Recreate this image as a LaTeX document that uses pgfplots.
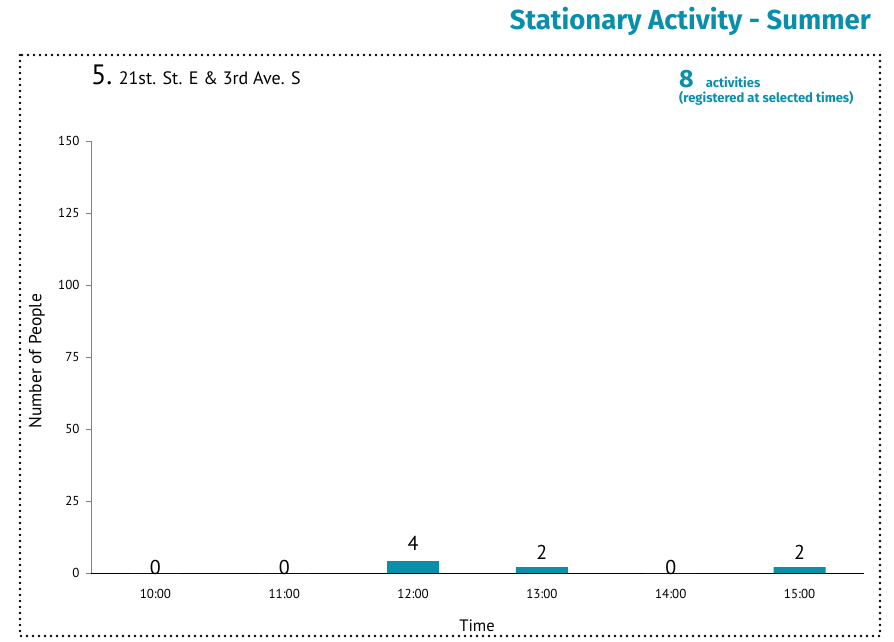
\documentclass[border=0pt]{standalone}
\usepackage{fontspec}
\setmainfont{PT Sans}
\newfontfamily\titlefont{Fira Sans}
\usepackage{pgfplots}
\pgfplotsset{compat=1.18}
\definecolor{teal1}{HTML}{0A8FAA}
\begin{document}
\begin{tikzpicture}[x=1pt,y=1pt]
\path (0,0) rectangle (894,641);
\draw[line width=2.6pt, line cap=round, dash pattern=on 0pt off 6pt] (20,586) rectangle (880,5);
\node[anchor=base east, inner sep=0, text=teal1, font=\titlefont\bfseries\fontsize{27.5}{32}\selectfont] at (871,611) {Stationary Activity - Summer};
\node[anchor=base west, inner sep=0, font=\fontsize{18}{20}\selectfont] at (91,556) {{\fontsize{28}{30}\selectfont 5.} 21st. St. E \& 3rd Ave. S};
\node[anchor=base west, inner sep=0, text=teal1, font=\titlefont\bfseries\fontsize{13}{15}\selectfont] at (679,553) {{\fontsize{25}{26}\selectfont 8}\hspace{9pt} activities};
\node[anchor=base west, inner sep=0, text=teal1, font=\titlefont\bfseries\fontsize{13}{15}\selectfont] at (679,538) {(registered at selected times)};
\begin{axis}[
  at={(91pt,68pt)}, anchor=south west, scale only axis,
  width=773pt, height=432pt,
  xmin=-0.5, xmax=5.5, ymin=0, ymax=150,
  axis x line=bottom, axis y line=left,
  axis line style={-},
  x axis line style={black, line width=0.8pt},
  y axis line style={gray, line width=0.8pt},
  ytick={0,25,...,150},
  xtick={0,...,5},
  xticklabels={10:00,11:00,12:00,13:00,14:00,15:00},
  x tick style={draw=none},
  extra x ticks={-0.5,0.5,1.5,2.5,3.5,4.5,5.5},
  extra x tick labels={},
  extra x tick style={tick style={black, draw=black, line width=0.6pt}, major tick length=6pt, tick align=outside},
  y tick style={gray, line width=0.6pt},
  major tick length=5pt, tick align=outside,
  tick label style={font=\fontsize{13}{15}\selectfont},
  yticklabel style={xshift=-3pt, font=\fontsize{13}{15}\selectfont},
  xticklabel style={yshift=-8pt, font=\fontsize{13}{15}\selectfont},
  /pgf/number format/assume math mode=true,
  ylabel={Number of People},
  xlabel={Time},
  ylabel style={at={(axis description cs:-0.07,0.49)}, anchor=center, font=\fontsize{17.5}{20}\selectfont},
  xlabel style={at={(axis description cs:0.4994,-0.1227)}, anchor=center, font=\fontsize{16.5}{20}\selectfont},
  ybar, bar width=52pt, bar shift=0pt,
  nodes near coords,
  every node near coord/.append style={font=\fontsize{20}{22}\selectfont, /pgf/number format/assume math mode=true},
  clip=false,
]
\addplot[fill=teal1, draw=none, every node near coord/.append style={yshift=-5pt}] coordinates {(0,0) (1,0) (4,0)};
\addplot[fill=teal1, draw=none, every node near coord/.append style={yshift=7pt}] coordinates {(2,4)};
\addplot[fill=teal1, draw=none, every node near coord/.append style={yshift=4pt}] coordinates {(3,2) (5,2)};
\end{axis}
\end{tikzpicture}
\end{document}
